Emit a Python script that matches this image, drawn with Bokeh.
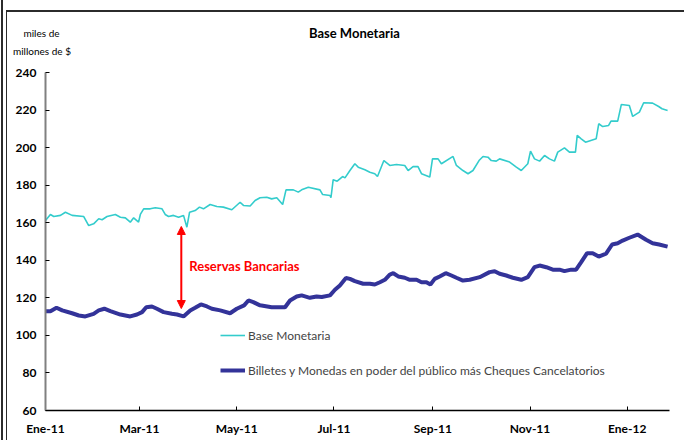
from bokeh.plotting import figure
from bokeh.models import Range1d, FixedTicker, Legend, LegendItem, Label, Arrow, NormalHead
from bokeh.embed import file_html
from bokeh.resources import INLINE

# Days since 1 Jan 2011 and values (miles de millones de $)
base_days = [0, 3.1, 5.2, 9.4, 12.5, 16.7, 24.0, 27.1, 30.2, 33.4, 35.5, 38.6, 43.8, 47.0,
             50.1, 53.2, 55.3, 58.4, 59.5, 61.6, 65.7, 68.9, 73.1, 75.1, 77.2, 80.3, 83.5,
             86.6, 88.7, 90.4, 93.9, 96.6, 99.1, 103.3, 107.5, 111.6, 116.9, 122.1, 124.2,
             128.4, 131.5, 134.6, 138.8, 141.9, 145.1, 148.8, 150.9, 155.5, 158.6, 160.7,
             164.9, 172.2, 173.9, 178.5, 179.1, 180.5, 183.0, 186.4, 187.9, 191.0, 194.1,
             196.2, 200.4, 203.5, 206.6, 208.3, 212.3, 216.0, 220.2, 225.4, 227.5, 230.6,
             233.7, 235.9, 241.1, 242.8, 246.3, 248.4, 255.7, 257.8, 261.9, 265.1, 268.2,
             272.0, 274.5, 277.6, 279.7, 282.8, 284.9, 291.2, 295.4, 298.5, 302.6, 304.3,
             306.8, 310.0, 313.1, 316.2, 319.3, 321.4, 325.6, 328.7, 332.5, 333.6, 336.1,
             338.8, 345.5, 347.1, 349.6, 353.3, 354.8, 359.0, 361.3, 366.3, 368.4, 372.6,
             375.3, 380.9, 384.7, 386.8, 390.3]
base_vals = [161.2, 164.4, 163.3, 163.9, 165.6, 163.9, 163.3, 158.5, 159.4, 162.1, 161.6,
             163.3, 164.4, 162.9, 162.6, 160.3, 162.6, 160.3, 164.4, 167.4, 167.4, 168.0,
             167.4, 164.4, 163.3, 163.9, 162.9, 163.9, 157.6, 165.6, 166.5, 168.3, 167.4,
             169.7, 168.6, 168.3, 166.9, 170.9, 169.2, 168.9, 171.8, 173.3, 173.6, 172.7,
             173.3, 169.7, 177.5, 177.5, 176.3, 177.5, 178.9, 177.5, 175.0, 174.5, 173.3,
             182.9, 182.1, 184.6, 183.9, 187.8, 191.4, 189.6, 188.2, 186.9, 186.1, 184.6,
             193.1, 190.5, 191.0, 190.5, 187.8, 189.9, 189.9, 186.1, 184.3, 194.0, 194.0,
             191.4, 195.3, 190.5, 187.8, 186.1, 187.8, 193.1, 195.3, 194.9, 193.1, 192.8,
             194.0, 192.3, 189.6, 187.8, 191.4, 198.1, 194.0, 192.8, 195.8, 194.0, 192.8,
             197.6, 199.9, 197.6, 197.6, 206.5, 204.7, 202.9, 204.7, 212.7, 211.2, 211.8,
             214.1, 214.1, 223.0, 222.4, 216.6, 218.9, 223.9, 223.7, 221.9, 220.7, 219.8]

billetes_days = [0, 3.1, 6.9, 10.5, 16.7, 20.9, 25.0, 30.2, 33.4, 36.9, 40.7, 47.0, 53.2,
                 57.4, 60.6, 63.2, 66.8, 69.9, 74.1, 79.3, 82.5, 86.6, 90.8, 93.9, 97.5,
                 101.3, 104.4, 109.6, 115.8, 120.0, 124.6, 127.3, 130.4, 134.6, 141.9, 150.3,
                 153.4, 157.6, 160.7, 165.9, 170.1, 173.3, 178.5, 181.6, 184.7, 188.5, 191.0,
                 194.1, 199.3, 203.5, 206.6, 209.8, 212.9, 216.0, 218.2, 221.3, 225.4, 228.6,
                 232.8, 235.9, 239.0, 241.5, 244.2, 247.3, 251.1, 254.7, 257.8, 261.9, 266.1,
                 272.4, 278.6, 281.8, 284.9, 289.1, 293.2, 298.5, 302.6, 306.8, 310.0, 314.2,
                 318.3, 322.5, 325.6, 329.8, 332.9, 336.1, 339.8, 343.3, 347.1, 351.7, 355.5,
                 359.0, 362.1, 366.3, 371.5, 376.8, 380.9, 385.0, 390.3]
billetes_vals = [112.9, 112.9, 114.7, 113.3, 111.8, 110.6, 110.1, 111.5, 113.3, 114.2, 112.9,
                 111.1, 110.1, 111.1, 112.4, 115.0, 115.4, 114.2, 112.4, 111.5, 111.1, 110.1,
                 113.3, 114.7, 116.5, 115.4, 114.2, 113.3, 111.8, 114.2, 116.0, 118.6, 117.7,
                 116.0, 115.0, 115.0, 118.6, 120.7, 121.3, 120.0, 120.7, 120.4, 121.3, 124.3,
                 126.6, 130.6, 130.1, 128.9, 127.5, 127.5, 127.1, 128.3, 129.6, 132.4, 133.1,
                 131.4, 130.7, 129.6, 129.6, 128.3, 128.3, 127.1, 130.1, 131.4, 133.1, 131.9,
                 130.7, 129.2, 129.6, 131.0, 133.7, 134.2, 132.8, 131.9, 130.7, 129.6, 131.0,
                 136.3, 137.2, 136.3, 135.0, 135.0, 134.2, 135.0, 135.0, 139.0, 143.8, 143.8,
                 142.0, 143.5, 148.4, 149.1, 150.5, 152.0, 153.7, 150.9, 149.1, 148.4, 147.3]

tick_days = [0, 59, 120, 181, 243, 304, 365]
tick_labels = ["Ene-11", "Mar-11", "May-11", "Jul-11", "Sep-11", "Nov-11", "Ene-12"]
y_ticks = [60, 80, 100, 120, 140, 160, 180, 200, 220, 240]

FONT = "Lato"
CYAN = "#33CCCC"
NAVY = "#333399"

p = figure(width=684, height=440, output_backend="svg", toolbar_location=None,
           x_range=Range1d(0, 391.5), y_range=Range1d(60, 240),
           min_border_left=45, min_border_right=15, min_border_top=72, min_border_bottom=30)
p.outline_line_color = None
p.grid.visible = False
p.background_fill_color = "white"
p.border_fill_color = None
# page frame lines of the original slide (top rule and double rule at the left)
p.styles = {
    "background-color": "white",
    "background-image": ("linear-gradient(#2b2b2b, #2b2b2b), "
                         "linear-gradient(#2b2b2b, #2b2b2b), "
                         "linear-gradient(#2b2b2b, #2b2b2b)"),
    "background-position": "7px 10px, 6px 10px, 1px 0px",
    "background-size": "100% 2px, 1px 100%, 2px 100%",
    "background-repeat": "no-repeat",
}

r_base = p.line(base_days, base_vals, line_color=CYAN, line_width=1.6)
r_bill = p.line(billetes_days, billetes_vals, line_color=NAVY, line_width=4)

# axes
xa = p.xaxis[0]
xa.ticker = FixedTicker(ticks=tick_days)
xa.major_label_overrides = {d: l for d, l in zip(tick_days, tick_labels)}
xa.axis_line_color = "black"
xa.axis_line_width = 1.5
xa.major_tick_in = 4
xa.major_tick_out = 0
xa.major_tick_line_color = "black"
xa.minor_tick_line_color = None
xa.major_label_text_font = FONT
xa.major_label_text_font_style = "bold"
xa.major_label_text_font_size = "12px"
xa.major_label_text_color = "black"
xa.major_label_standoff = 10

ya = p.yaxis[0]
ya.ticker = FixedTicker(ticks=y_ticks)
ya.axis_line_color = "#808080"
ya.axis_line_width = 2
ya.major_tick_in = 4
ya.major_tick_out = 0
ya.major_tick_line_color = "black"
ya.minor_tick_line_color = None
ya.major_label_text_font = FONT
ya.major_label_text_font_style = "bold"
ya.major_label_text_font_size = "12px"
ya.major_label_text_color = "black"
ya.major_label_standoff = 9

# texts above the frame (placed in the "above" panel so they are not clipped)
p.add_layout(Label(x=193.8, y=260.8, text="Base Monetaria", text_font=FONT,
                   text_font_style="bold", text_font_size="13px", text_align="center",
                   text_baseline="middle", text_color="black"), "above")
p.add_layout(Label(x=-2.5, y=260.8, text="miles de", text_font=FONT,
                   text_font_size="10px", text_align="center", text_baseline="middle",
                   text_color="black"), "above")
p.add_layout(Label(x=-2.2, y=251.7, text="millones de $", text_font=FONT,
                   text_font_size="10px", text_align="center", text_baseline="middle",
                   text_color="black"), "above")

# reservas annotation
p.add_layout(Arrow(x_start=85.2, y_start=114.3, x_end=85.2, y_end=158.0,
                   line_color="red", line_width=2,
                   start=NormalHead(size=8, fill_color="red", line_color="red"),
                   end=NormalHead(size=8, fill_color="red", line_color="red")))
p.add_layout(Label(x=90.2, y=136.7, text="Reservas Bancarias", text_font=FONT,
                   text_font_style="bold", text_font_size="13px", text_align="left",
                   text_baseline="middle", text_color="red"))

legend = Legend(items=[LegendItem(label="Base Monetaria", renderers=[r_base]),
                       LegendItem(label="Billetes y Monedas en poder del público más Cheques Cancelatorios",
                                  renderers=[r_bill])],
                location=(175, 30), padding=0, spacing=15, glyph_width=25,
                label_text_font=FONT, label_text_font_size="12px", label_standoff=3,
                background_fill_alpha=0, border_line_color=None)
p.add_layout(legend)

open("out.html", "w").write(file_html(p, INLINE))
